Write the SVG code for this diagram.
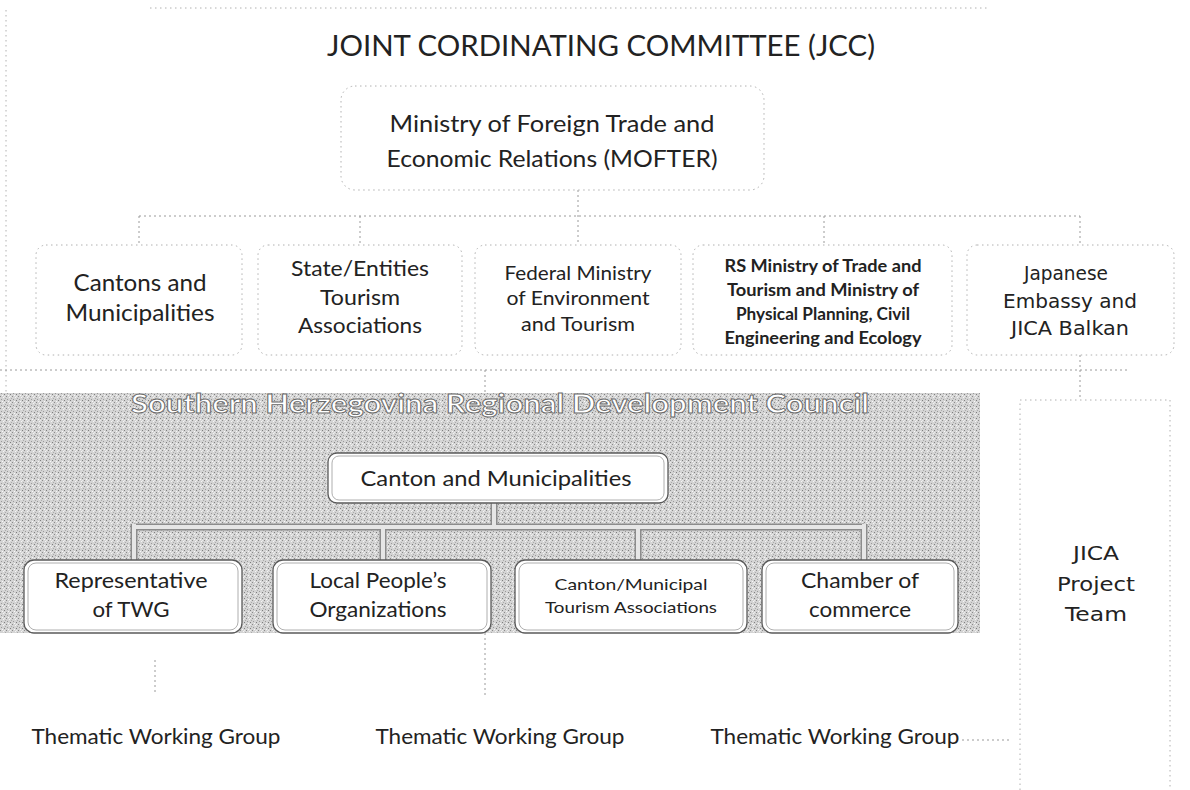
<svg xmlns="http://www.w3.org/2000/svg" width="1190" height="790" viewBox="0 0 1190 790">
  <defs>
    <style>
      .t { font-family: Lato, "Open Sans", "Liberation Sans", sans-serif; fill: #222222; text-anchor: middle; }
      .v { font-family: "DejaVu Sans", Verdana, sans-serif; fill: #222222; text-anchor: middle; }
      .faint { fill: none; stroke: #b0b0b0; stroke-width: 1; stroke-dasharray: 1.5 3.5; }
      .wire { fill: none; stroke: #9a9a9a; stroke-width: 1; stroke-dasharray: 2 3; }
      .inner { fill: #ffffff; stroke: #5a5a5a; stroke-width: 1.3; }
      .inner2 { fill: none; stroke: #9a9a9a; stroke-width: 0.8; }
      .bar-out { fill: none; stroke: #8c8c8c; stroke-width: 7; }
      .bar-in { fill: none; stroke: #e6e6e6; stroke-width: 4; }
    </style>
    <!-- speckled grey texture for the council panel -->
    <pattern id="grain" width="6" height="6" patternUnits="userSpaceOnUse">
      <rect width="6" height="6" fill="#d4d4d4"/>
      <rect x="0" y="0" width="1" height="1" fill="#8a8a8a"/>
      <rect x="3" y="1" width="1" height="1" fill="#f4f4f4"/>
      <rect x="1" y="3" width="1" height="1" fill="#9a9a9a"/>
      <rect x="4" y="4" width="1" height="1" fill="#7e7e7e"/>
      <rect x="2" y="5" width="1" height="1" fill="#f8f8f8"/>
      <rect x="5" y="2" width="1" height="1" fill="#ababab"/>
      <rect x="4" y="0" width="1" height="1" fill="#ececec"/>
    </pattern>
  </defs>

  <rect width="1190" height="790" fill="#ffffff"/>

  <!-- page edge marks -->
  <line class="faint" x1="150" y1="8" x2="990" y2="8"/>
  <line class="faint" x1="6" y1="10" x2="6" y2="440"/>

  <!-- title -->
  <text class="t" x="601" y="56" font-size="29" textLength="548" lengthAdjust="spacingAndGlyphs">JOINT CORDINATING COMMITTEE (JCC)</text>

  <!-- council panel background -->
  <g id="council">
    <rect x="0" y="393" width="980" height="240" fill="url(#grain)"/>
    <text x="500" y="413" font-family="Lato, 'Open Sans', 'Liberation Sans', sans-serif" font-weight="bold" font-size="26" fill="#ffffff" stroke="#6a6a6a" stroke-width="0.9" text-anchor="middle" textLength="738" lengthAdjust="spacingAndGlyphs">Southern Herzegovina Regional Development Council</text>
  </g>

  <!-- connectors -->
  <g id="connectors">
    <!-- MOFTER to ministries -->
    <line class="wire" x1="578" y1="190" x2="578" y2="245"/>
    <line class="wire" x1="139" y1="216" x2="1080" y2="216"/>
    <line class="wire" x1="139" y1="216" x2="139" y2="245"/>
    <line class="wire" x1="360" y1="216" x2="360" y2="245"/>
    <line class="wire" x1="824" y1="216" x2="824" y2="245"/>
    <line class="wire" x1="1080" y1="216" x2="1080" y2="245"/>
    <!-- ministries to council -->
    <line class="wire" x1="0" y1="370" x2="1130" y2="370"/>
    <line class="wire" x1="485" y1="370" x2="485" y2="393"/>
    <line class="wire" x1="1080" y1="355" x2="1080" y2="400"/>
    <!-- council tree -->
    <path class="bar-out" d="M494 503 V527 M134 527 H864 M134 524 V560 M383 527 V560 M638 527 V560 M864 524 V560"/>
    <path class="bar-in" d="M494 503 V527 M134 527 H864 M134 524 V560 M383 527 V560 M638 527 V560 M864 524 V560"/>
    <!-- council to working groups -->
    <line class="wire" x1="155" y1="660" x2="155" y2="692"/>
    <line class="wire" x1="485" y1="633" x2="485" y2="695"/>
    <line class="wire" x1="962" y1="740" x2="1012" y2="740"/>
  </g>

  <g id="mofter">
    <rect class="faint" x="341" y="86" width="423" height="104" rx="14"/>
    <text class="t" x="552" y="132" font-size="24" textLength="325" lengthAdjust="spacingAndGlyphs">Ministry of Foreign Trade and</text>
    <text class="t" x="552" y="167" font-size="24" textLength="331" lengthAdjust="spacingAndGlyphs">Economic Relations (MOFTER)</text>
  </g>

  <g id="cantons">
    <rect class="faint" x="36" y="245" width="206" height="110" rx="10"/>
    <text class="t" x="140" y="291" font-size="23" textLength="133" lengthAdjust="spacingAndGlyphs">Cantons and</text>
    <text class="t" x="140" y="321" font-size="23" textLength="149" lengthAdjust="spacingAndGlyphs">Municipalities</text>
  </g>

  <g id="state-entities">
    <rect class="faint" x="258" y="245" width="204" height="110" rx="10"/>
    <text class="t" x="360" y="276" font-size="22" textLength="138" lengthAdjust="spacingAndGlyphs">State/Entities</text>
    <text class="t" x="360" y="305" font-size="22" textLength="80" lengthAdjust="spacingAndGlyphs">Tourism</text>
    <text class="t" x="360" y="333" font-size="22" textLength="124" lengthAdjust="spacingAndGlyphs">Associations</text>
  </g>

  <g id="federal-ministry">
    <rect class="faint" x="475" y="245" width="206" height="110" rx="10"/>
    <text class="t" x="578" y="280" font-size="19" textLength="147" lengthAdjust="spacingAndGlyphs">Federal Ministry</text>
    <text class="t" x="578" y="305" font-size="19" textLength="143" lengthAdjust="spacingAndGlyphs">of Environment</text>
    <text class="t" x="578" y="331" font-size="19" textLength="114" lengthAdjust="spacingAndGlyphs">and Tourism</text>
  </g>

  <g id="rs-ministry">
    <rect class="faint" x="693" y="245" width="259" height="110" rx="10"/>
    <text class="t" x="823" y="272" font-size="16.5" font-weight="bold" textLength="197" lengthAdjust="spacingAndGlyphs">RS Ministry of Trade and</text>
    <text class="t" x="823" y="296" font-size="16.5" font-weight="bold" textLength="192" lengthAdjust="spacingAndGlyphs">Tourism and Ministry of</text>
    <text class="t" x="823" y="320" font-size="16.5" font-weight="bold" textLength="174" lengthAdjust="spacingAndGlyphs">Physical Planning, Civil</text>
    <text class="t" x="823" y="344" font-size="16.5" font-weight="bold" textLength="197" lengthAdjust="spacingAndGlyphs">Engineering and Ecology</text>
  </g>

  <g id="japan">
    <rect class="faint" x="967" y="245" width="207" height="110" rx="10"/>
    <text class="v" x="1066" y="280" font-size="19" textLength="84" lengthAdjust="spacingAndGlyphs">Japanese</text>
    <text class="v" x="1070" y="308" font-size="19" textLength="134" lengthAdjust="spacingAndGlyphs">Embassy  and</text>
    <text class="v" x="1070" y="335" font-size="19" textLength="118" lengthAdjust="spacingAndGlyphs">JICA Balkan</text>
  </g>

  <g id="canton-municipalities">
    <rect class="inner" x="328" y="453" width="340" height="50" rx="9"/>
    <rect class="inner2" x="332" y="456" width="332" height="44" rx="7"/>
    <text class="t" x="496" y="486" font-size="22" textLength="271" lengthAdjust="spacingAndGlyphs">Canton and Municipalities</text>
  </g>

  <g id="twg-rep">
    <rect class="inner" x="24" y="560" width="218" height="73" rx="10"/>
    <rect class="inner2" x="28" y="563" width="210" height="67" rx="8"/>
    <text class="t" x="131" y="588" font-size="21" textLength="153" lengthAdjust="spacingAndGlyphs">Representative</text>
    <text class="t" x="131" y="617" font-size="21" textLength="77" lengthAdjust="spacingAndGlyphs">of TWG</text>
  </g>

  <g id="local-people">
    <rect class="inner" x="273" y="560" width="218" height="73" rx="10"/>
    <rect class="inner2" x="277" y="563" width="210" height="67" rx="8"/>
    <text class="t" x="378" y="588" font-size="21" textLength="137" lengthAdjust="spacingAndGlyphs">Local People’s</text>
    <text class="t" x="378" y="617" font-size="21" textLength="137" lengthAdjust="spacingAndGlyphs">Organizations</text>
  </g>

  <g id="tourism-assoc">
    <rect class="inner" x="515" y="560" width="232" height="73" rx="10"/>
    <rect class="inner2" x="519" y="563" width="224" height="67" rx="8"/>
    <text class="t" x="631" y="590" font-size="15" textLength="153" lengthAdjust="spacingAndGlyphs">Canton/Municipal</text>
    <text class="t" x="631" y="613" font-size="15" textLength="172" lengthAdjust="spacingAndGlyphs">Tourism Associations</text>
  </g>

  <g id="chamber">
    <rect class="inner" x="762" y="560" width="196" height="73" rx="10"/>
    <rect class="inner2" x="766" y="563" width="188" height="67" rx="8"/>
    <text class="t" x="860" y="588" font-size="21" textLength="118" lengthAdjust="spacingAndGlyphs">Chamber of</text>
    <text class="t" x="860" y="617" font-size="21" textLength="102" lengthAdjust="spacingAndGlyphs">commerce</text>
  </g>

  <g id="jica-team">
    <rect class="faint" x="1020" y="400" width="150" height="400"/>
    <text class="v" x="1096" y="560" font-size="19" textLength="46" lengthAdjust="spacingAndGlyphs">JICA</text>
    <text class="v" x="1096" y="591" font-size="19" textLength="78" lengthAdjust="spacingAndGlyphs">Project</text>
    <text class="v" x="1096" y="621" font-size="19" textLength="62" lengthAdjust="spacingAndGlyphs">Team</text>
  </g>

  <g id="working-groups">
    <text class="t" x="156" y="744" font-size="21" textLength="249" lengthAdjust="spacingAndGlyphs">Thematic Working Group</text>
    <text class="t" x="500" y="744" font-size="21" textLength="249" lengthAdjust="spacingAndGlyphs">Thematic Working Group</text>
    <text class="t" x="835" y="744" font-size="21" textLength="249" lengthAdjust="spacingAndGlyphs">Thematic Working Group</text>
  </g>
</svg>
